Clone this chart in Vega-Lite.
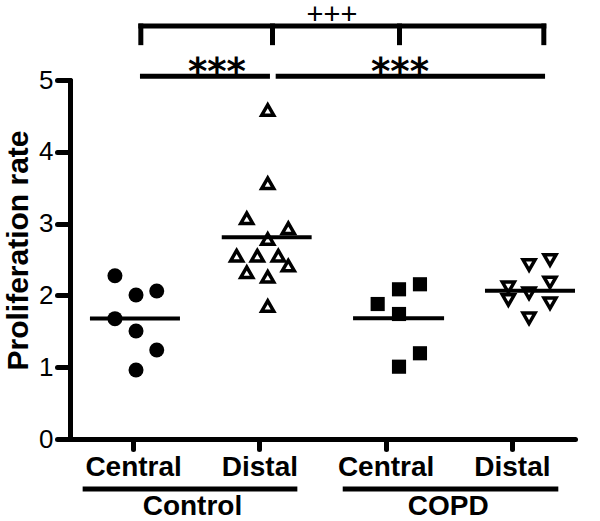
{
  "$schema": "https://vega.github.io/schema/vega-lite/v6.json",
  "width": 505,
  "height": 359,
  "autosize": {"type": "none"},
  "padding": {"left": 70, "top": 80, "right": 25, "bottom": 82},
  "background": "white",
  "config": {"font": "Liberation Sans", "view": {"stroke": null}},
  "datasets": {
    "points": [
      {"group": "Control Central", "x": 0.856, "y": 2.274},
      {"group": "Control Central", "x": 1.023, "y": 2.006},
      {"group": "Control Central", "x": 1.187, "y": 2.061},
      {"group": "Control Central", "x": 0.856, "y": 1.676},
      {"group": "Control Central", "x": 1.023, "y": 1.504},
      {"group": "Control Central", "x": 1.187, "y": 1.240},
      {"group": "Control Central", "x": 1.023, "y": 0.961},
      {"group": "Control Distal", "x": 2.066, "y": 4.582},
      {"group": "Control Distal", "x": 2.066, "y": 3.561},
      {"group": "Control Distal", "x": 1.900, "y": 3.074},
      {"group": "Control Distal", "x": 2.229, "y": 2.935},
      {"group": "Control Distal", "x": 2.066, "y": 2.786},
      {"group": "Control Distal", "x": 1.820, "y": 2.553},
      {"group": "Control Distal", "x": 1.984, "y": 2.553},
      {"group": "Control Distal", "x": 2.150, "y": 2.553},
      {"group": "Control Distal", "x": 2.229, "y": 2.414},
      {"group": "Control Distal", "x": 1.900, "y": 2.322},
      {"group": "Control Distal", "x": 2.066, "y": 2.260},
      {"group": "Control Distal", "x": 2.066, "y": 1.852},
      {"group": "COPD Central", "x": 2.937, "y": 1.880},
      {"group": "COPD Central", "x": 3.106, "y": 2.085},
      {"group": "COPD Central", "x": 3.272, "y": 2.155},
      {"group": "COPD Central", "x": 3.106, "y": 1.741},
      {"group": "COPD Central", "x": 3.272, "y": 1.194},
      {"group": "COPD Central", "x": 3.106, "y": 1.007},
      {"group": "COPD Distal", "x": 4.136, "y": 2.423},
      {"group": "COPD Distal", "x": 4.302, "y": 2.493},
      {"group": "COPD Distal", "x": 3.972, "y": 2.113},
      {"group": "COPD Distal", "x": 4.302, "y": 2.182},
      {"group": "COPD Distal", "x": 4.136, "y": 2.029},
      {"group": "COPD Distal", "x": 3.972, "y": 1.936},
      {"group": "COPD Distal", "x": 4.302, "y": 1.890},
      {"group": "COPD Distal", "x": 4.136, "y": 1.681}
    ],
    "means": [
      {"group": "Control Central", "x": 0.658, "x2": 1.371, "y": 1.68},
      {"group": "Control Distal", "x": 1.702, "x2": 2.414, "y": 2.809},
      {"group": "COPD Central", "x": 2.742, "x2": 3.463, "y": 1.681},
      {"group": "COPD Distal", "x": 3.787, "x2": 4.5, "y": 2.065}
    ],
    "segments": [
      {"x": 1.061, "x2": 4.253, "y": 5.752, "y2": 5.752},
      {"x": 1.061, "x2": 1.061, "y": 5.752, "y2": 5.52},
      {"x": 2.104, "x2": 2.104, "y": 5.752, "y2": 5.52},
      {"x": 3.110, "x2": 3.110, "y": 5.752, "y2": 5.52},
      {"x": 4.253, "x2": 4.253, "y": 5.752, "y2": 5.52},
      {"x": 1.074, "x2": 2.064, "y": 5.051, "y2": 5.051},
      {"x": 2.149, "x2": 4.243, "y": 5.051, "y2": 5.051},
      {"x": 0.620, "x2": 2.281, "y": -0.696, "y2": -0.696},
      {"x": 2.680, "x2": 4.348, "y": -0.696, "y2": -0.696}
    ],
    "labels": [
      {"kind": "group", "text": "Control", "x": 1.470, "y": -1.058},
      {"kind": "group", "text": "COPD", "x": 3.496, "y": -1.058},
      {"kind": "star", "text": "***", "x": 1.664, "y": 4.944},
      {"kind": "star", "text": "***", "x": 3.114, "y": 4.944},
      {"kind": "plus", "text": "+++", "x": 2.575, "y": 5.785}
    ]
  },
  "layer": [
    {
      "data": {"name": "points"},
      "transform": [{"filter": "datum.group == 'Control Central' || datum.group == 'COPD Central'"}],
      "mark": {"type": "point", "filled": true, "opacity": 1, "color": "black"},
      "encoding": {
        "x": {
          "field": "x", "type": "quantitative", "title": null,
          "scale": {"domain": [0.5, 4.5], "nice": false, "zero": false},
          "axis": {
            "values": [1, 2, 3, 4],
            "labelExpr": "datum.value == 1 || datum.value == 3 ? 'Central' : 'Distal'",
            "grid": false,
            "domainColor": "black", "domainWidth": 5, "domainCap": "round",
            "tickColor": "black", "tickWidth": 5, "tickSize": 10, "tickCap": "round",
            "labelFont": "Liberation Sans", "labelFontWeight": "bold", "labelFontSize": 28,
            "labelColor": "black", "labelPadding": 4, "labelFlush": false, "labelOverlap": false
          }
        },
        "y": {
          "field": "y", "type": "quantitative", "title": "Proliferation rate",
          "scale": {"domain": [0, 5], "nice": false, "zero": false},
          "axis": {
            "values": [0, 1, 2, 3, 4, 5],
            "format": "d",
            "grid": false,
            "domainColor": "black", "domainWidth": 5, "domainCap": "round",
            "tickColor": "black", "tickWidth": 5, "tickSize": 13, "tickCap": "round",
            "labelFont": "Liberation Sans", "labelFontSize": 26, "labelColor": "black",
            "labelPadding": 4, "labelFlush": false, "labelOverlap": false,
            "titleFont": "Liberation Sans",
            "titleFontSize": 30, "titleFontWeight": "bold", "titleColor": "black",
            "titleAngle": 270, "titleAlign": "center", "titleBaseline": "alphabetic",
            "titleX": -43, "titleY": 170
          }
        },
        "shape": {
          "field": "group", "type": "nominal",
          "scale": {"domain": ["Control Central", "Control Distal", "COPD Central", "COPD Distal"],
                    "range": ["circle", "triangle-up", "square", "triangle-down"]},
          "legend": null
        },
        "size": {"condition": {"test": "datum.group == 'COPD Central'", "value": 200}, "value": 225}
      }
    },
    {
      "data": {"name": "points"},
      "transform": [{"filter": "datum.group == 'Control Distal' || datum.group == 'COPD Distal'"}],
      "mark": {"type": "point", "filled": false, "opacity": 1, "stroke": "black", "strokeWidth": 3.5, "size": 144},
      "encoding": {
        "x": {"field": "x", "type": "quantitative", "title": null},
        "y": {"field": "y", "type": "quantitative", "title": "Proliferation rate"},
        "shape": {"field": "group", "type": "nominal", "legend": null}
      }
    },
    {
      "data": {"name": "means"},
      "mark": {"type": "rule", "strokeWidth": 4, "color": "black"},
      "encoding": {
        "x": {"field": "x", "type": "quantitative", "title": null},
        "x2": {"field": "x2"},
        "y": {"field": "y", "type": "quantitative", "title": "Proliferation rate"}
      }
    },
    {
      "data": {"name": "segments"},
      "mark": {"type": "rule", "strokeWidth": 5, "strokeCap": "square", "color": "black", "clip": false},
      "encoding": {
        "x": {"field": "x", "type": "quantitative", "title": null},
        "x2": {"field": "x2"},
        "y": {"field": "y", "type": "quantitative", "title": "Proliferation rate"},
        "y2": {"field": "y2"}
      }
    },
    {
      "data": {"name": "labels"},
      "transform": [{"filter": "datum.kind == 'group'"}],
      "mark": {"type": "text", "font": "Liberation Sans", "fontWeight": "bold", "fontSize": 28, "baseline": "alphabetic", "align": "center", "color": "black", "clip": false},
      "encoding": {
        "x": {"field": "x", "type": "quantitative", "title": null},
        "y": {"field": "y", "type": "quantitative", "title": "Proliferation rate"},
        "text": {"field": "text"}
      }
    },
    {
      "data": {"name": "labels"},
      "transform": [{"filter": "datum.kind == 'star'"}],
      "mark": {"type": "text", "font": "DejaVu Sans", "fontWeight": "bold", "fontSize": 37, "baseline": "alphabetic", "align": "center", "color": "black", "clip": false},
      "encoding": {
        "x": {"field": "x", "type": "quantitative", "title": null},
        "y": {"field": "y", "type": "quantitative", "title": "Proliferation rate"},
        "text": {"field": "text"}
      }
    },
    {
      "data": {"name": "labels"},
      "transform": [{"filter": "datum.kind == 'plus'"}],
      "mark": {"type": "text", "font": "Liberation Sans", "fontSize": 29, "baseline": "alphabetic", "align": "center", "color": "black", "clip": false},
      "encoding": {
        "x": {"field": "x", "type": "quantitative", "title": null},
        "y": {"field": "y", "type": "quantitative", "title": "Proliferation rate"},
        "text": {"field": "text"}
      }
    }
  ]
}
